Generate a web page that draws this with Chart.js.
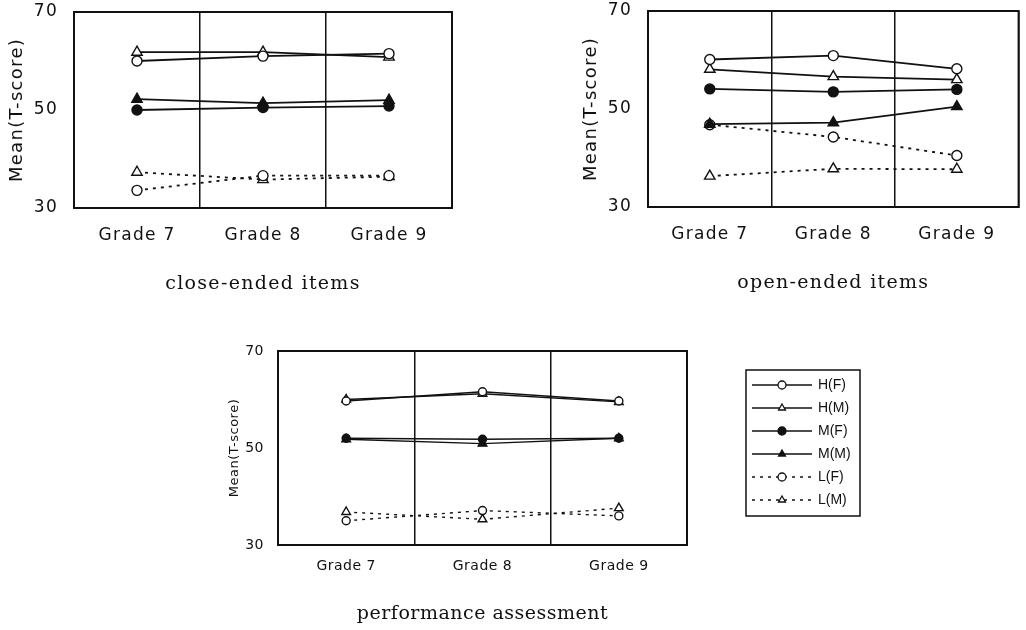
<!DOCTYPE html>
<html>
<head>
<meta charset="utf-8">
<script src="https://cdn.jsdelivr.net/npm/chart.js@4.4.0/dist/chart.umd.min.js"></script>
<style>
  body { margin: 0; background: #fff; width: 1026px; height: 630px; overflow: hidden; position: relative; }
  .box { position: absolute; }
</style>
</head>
<body>
<div class="box" style="left:0px;top:0px;width:460px;height:298px"><canvas id="close"></canvas></div>
<div class="box" style="left:574px;top:0px;width:452px;height:297px"><canvas id="open"></canvas></div>
<div class="box" style="left:218px;top:339px;width:700px;height:286px"><canvas id="perf"></canvas></div>
<script>
const grades = ['Grade 7', 'Grade 8', 'Grade 9'];
const groups = ['H(F)', 'H(M)', 'M(F)', 'M(M)', 'L(F)', 'L(M)'];
const yTicks = [30, 50, 70];

// close-ended items
const close_HF = [60.0, 61.0, 61.5];
const close_HM = [61.8, 61.8, 60.8];
const close_MF = [50.0, 50.5, 50.8];
const close_MM = [52.2, 51.4, 52.0];
const close_LF = [33.6, 36.6, 36.6];
const close_LM = [37.3, 35.8, 36.4];

// open-ended items
const open_HF = [60.1, 60.9, 58.2];
const open_HM = [58.1, 56.6, 56.0];
const open_MF = [54.1, 53.5, 54.0];
const open_MM = [46.9, 47.2, 50.5];
const open_LF = [46.8, 44.3, 40.5];
const open_LM = [36.3, 37.8, 37.7];

// performance assessment
const perf_HF = [59.7, 61.6, 59.7];
const perf_HM = [60.0, 61.2, 59.5];
const perf_MF = [52.0, 51.8, 52.0];
const perf_MM = [51.8, 50.9, 52.0];
const perf_LF = [35.0, 37.1, 36.0];
const perf_LM = [36.8, 35.3, 37.6];

const INK = '#111';
// marker style per group: [pointStyle, filled, dashed]
const styles = [
  ['circle', false, false],
  ['triangle', false, false],
  ['circle', true, false],
  ['triangle', true, false],
  ['circle', false, true],
  ['triangle', false, true]
];

const frame = {
  id: 'frame',
  beforeDraw(chart) {
    chart.ctx.letterSpacing = chart.options.plugins.frame.spacing;
  },
  afterDatasetsDraw(chart) {
    const a = chart.chartArea, ctx = chart.ctx;
    ctx.save();
    ctx.strokeStyle = INK;
    ctx.lineWidth = 2;
    ctx.strokeRect(a.left, a.top, a.right - a.left, a.bottom - a.top);
    ctx.restore();
  }
};

// legend drawn next to the bottom chart
const sideLegend = {
  id: 'sideLegend',
  afterDraw(chart) {
    if (!chart.options.plugins.sideLegend.show) return;
    const ctx = chart.ctx;
    const a = chart.chartArea;
    const x0 = a.right + 59, y0 = a.top + 19, w = 114, h = 146;
    ctx.save();
    ctx.letterSpacing = '0px';
    ctx.strokeStyle = INK;
    ctx.lineWidth = 1.5;
    ctx.strokeRect(x0, y0, w, h);
    chart.data.datasets.forEach((ds, i) => {
      let y = y0 + 15 + i * 23;
      ctx.save();
      ctx.strokeStyle = INK;
      ctx.lineWidth = 1.5;
      ctx.setLineDash(ds.borderDash || []);
      ctx.beginPath();
      ctx.moveTo(x0 + 6, y);
      ctx.lineTo(x0 + 66, y);
      ctx.stroke();
      ctx.restore();
      ctx.save();
      ctx.fillStyle = ds.pointBackgroundColor;
      ctx.strokeStyle = INK;
      ctx.lineWidth = 1.3;
      Chart.helpers.drawPoint(ctx, {pointStyle: ds.pointStyle, radius: 4, rotation: 0, borderWidth: 1.3}, x0 + 36, y);
      ctx.restore();
      ctx.fillStyle = INK;
      ctx.font = '14px "Liberation Sans"';
      ctx.textBaseline = 'middle';
      ctx.fillText(ds.label, x0 + 72, y);
    });
    ctx.restore();
  }
};

function makeChart(id, series, o) {
  let datasets = series.map((vals, i) => {
    let s = styles[i];
    return {
      label: groups[i],
      data: vals,
      borderColor: INK,
      borderWidth: o.line,
      borderDash: s[2] ? [3, 5] : [],
      pointStyle: s[0],
      pointRadius: s[0] == 'triangle' ? o.radius + 1 : o.radius,
      pointBorderWidth: 1.4,
      pointBorderColor: INK,
      pointBackgroundColor: s[1] ? INK : '#fff',
      tension: 0,
      clip: false
    };
  });
  return new Chart(document.getElementById(id), {
    type: 'line',
    data: {labels: grades, datasets: datasets},
    plugins: [frame, sideLegend],
    options: {
      responsive: true,
      maintainAspectRatio: false,
      animation: false,
      layout: {padding: {left: 0, top: o.padTop, right: o.padRight, bottom: 0}},
      plugins: {
        legend: {display: false},
        tooltip: {enabled: false},
        frame: {spacing: o.spacing},
        sideLegend: {show: !!o.legend}
      },
      scales: {
        x: {
          offset: true,
          grid: {offset: true, color: INK, lineWidth: 1.5, drawTicks: false},
          border: {color: INK, width: 2},
          ticks: {color: INK, font: {family: 'DejaVu Sans', size: o.tick}, padding: o.xPad, maxRotation: 0},
          title: {display: true, text: o.caption, color: INK,
                  font: {family: 'DejaVu Serif', size: o.capSize},
                  padding: {top: 0, bottom: o.capPad}},
          afterFit: s => { s.height = o.xHeight; s.paddingLeft = 0; s.paddingRight = 0; }
        },
        y: {
          min: 30, max: 70,
          afterBuildTicks: s => { s.ticks = yTicks.map(v => ({value: v})); },
          grid: {display: false, drawTicks: false},
          border: {color: INK, width: 2},
          ticks: {color: INK, font: {family: 'DejaVu Sans', size: o.tick}, padding: o.yPad},
          title: {display: true, text: 'Mean(T-score)', color: INK,
                  font: {family: 'DejaVu Sans', size: o.yTitle},
                  padding: {top: o.yTitlePad, bottom: 0}},
          afterFit: s => { s.width = o.yWidth; s.paddingTop = 0; s.paddingBottom = 0; }
        }
      }
    }
  });
}

makeChart('close', [close_HF, close_HM, close_MF, close_MM, close_LF, close_LM], {
  caption: 'close-ended items', padTop: 12, padRight: 8, yWidth: 74, xHeight: 90, tick: 17, xPad: 17, yPad: 16,
  yTitle: 18, yTitlePad: 7, capSize: 19, capPad: 3, line: 1.8, radius: 5, spacing: '1.3px'
});
makeChart('open', [open_HF, open_HM, open_MF, open_MM, open_LF, open_LM], {
  caption: 'open-ended items', padTop: 11, padRight: 0, yWidth: 74, xHeight: 90, tick: 17, xPad: 17, yPad: 16,
  yTitle: 18, yTitlePad: 7, capSize: 19, capPad: 3, line: 1.8, radius: 5, spacing: '1.3px'
});
makeChart('perf', [perf_HF, perf_HM, perf_MF, perf_MM, perf_LF, perf_LM], {
  caption: 'performance assessment', padTop: 12, padRight: 231, yWidth: 60, xHeight: 80, tick: 14, xPad: 13, yPad: 14,
  yTitle: 13, yTitlePad: 9, capSize: 19, capPad: 0, line: 1.4, radius: 4, spacing: '0.5px', legend: true
});
</script>
</body>
</html>
